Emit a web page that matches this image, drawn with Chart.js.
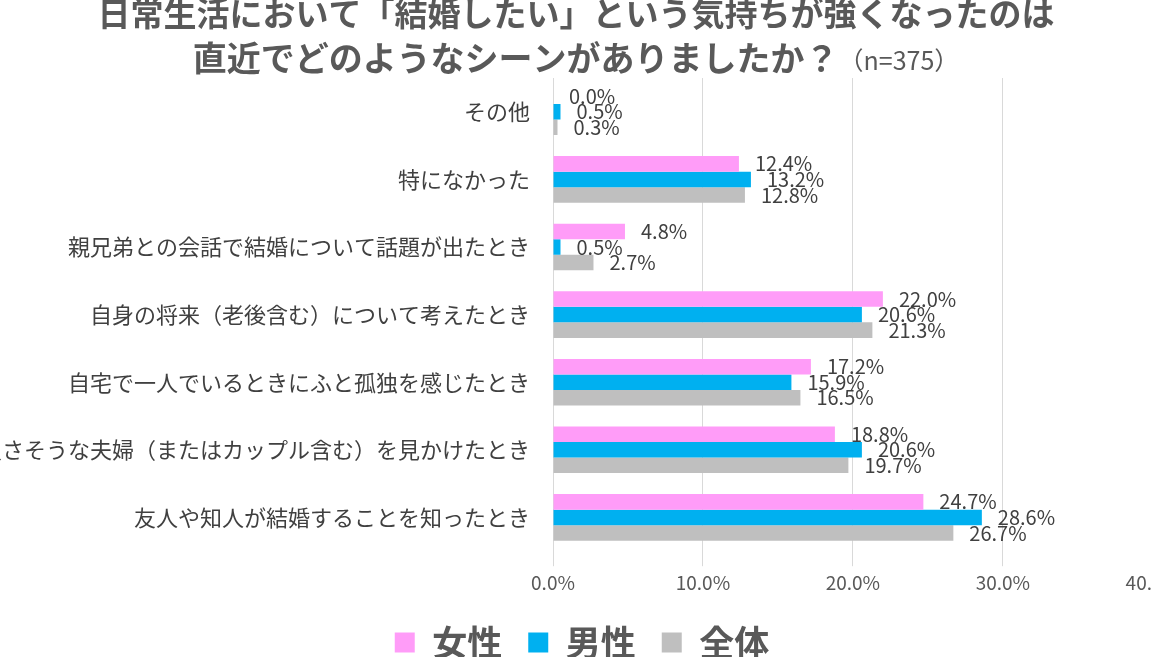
<!DOCTYPE html>
<html lang="ja">
<head>
<meta charset="utf-8">
<title>結婚したい気持ちが強くなったシーン</title>
<script src="https://cdn.jsdelivr.net/npm/chart.js@4/dist/chart.umd.min.js"></script>
<style>
  html, body { margin: 0; padding: 0; background: #fff; overflow: hidden; }
  #wrap { position: absolute; left: -21px; top: 0; width: 1206px; height: 670px; }
</style>
</head>
<body>
<div id="wrap"><canvas id="chart"></canvas></div>
<script>
// --- データ ---
const categories = [
  'その他',
  '特になかった',
  '親兄弟との会話で結婚について話題が出たとき',
  '自身の将来（老後含む）について考えたとき',
  '自宅で一人でいるときにふと孤独を感じたとき',
  '良さそうな夫婦（またはカップル含む）を見かけたとき',
  '友人や知人が結婚することを知ったとき'
];
const seriesNames = ['女性', '男性', '全体'];
const female = [0.0, 12.4, 4.8, 22.0, 17.2, 18.8, 24.7];
const male   = [0.5, 13.2, 0.5, 20.6, 15.9, 20.6, 28.6];
const total  = [0.3, 12.8, 2.7, 21.3, 16.5, 19.7, 26.7];
const titleLine1 = '日常生活において「結婚したい」という気持ちが強くなったのは';
const titleLine2 = '直近でどのようなシーンがありましたか？';
const titleNote = '（n=375）';

const colors = ['#FF9CF8', '#00B0F0', '#BFBFBF'];
const JP = '"Noto Sans CJK JP", "Noto Sans", sans-serif';
const SHIFT = 21; // canvas starts 21px left of the window

// タイトル（2行目は n= 部分だけ小さい文字）
const titlePlugin = {
  id: 'titleText',
  afterDraw(chart) {
    const ctx = chart.ctx;
    const cx = 576 + SHIFT;
    ctx.save();
    ctx.fillStyle = '#595959';
    ctx.textBaseline = 'middle';
    ctx.textAlign = 'center';
    ctx.font = 'bold 33px ' + JP;
    ctx.fillText(titleLine1, cx, 13);
    ctx.font = 'bold 34px ' + JP;
    const w1 = ctx.measureText(titleLine2).width;
    ctx.font = '25px ' + JP;
    const w2 = ctx.measureText(titleNote).width;
    const left = cx - (w1 + w2) / 2;
    ctx.textAlign = 'left';
    ctx.font = 'bold 34px ' + JP;
    ctx.fillText(titleLine2, left, 58);
    ctx.font = '25px ' + JP;
    ctx.fillText(titleNote, left + w1, 60);
    ctx.restore();
  }
};

// 棒の右に値ラベル
const valueLabels = {
  id: 'valueLabels',
  afterDatasetsDraw(chart) {
    const ctx = chart.ctx;
    ctx.save();
    ctx.font = '20px ' + JP;
    ctx.fillStyle = '#404040';
    ctx.textAlign = 'left';
    ctx.textBaseline = 'middle';
    chart.data.datasets.forEach((ds, i) => {
      chart.getDatasetMeta(i).data.forEach((bar, j) => {
        ctx.fillText(ds.data[j].toFixed(1) + '%', bar.x + 16, bar.y);
      });
    });
    ctx.restore();
  }
};

new Chart(document.getElementById('chart'), {
  type: 'bar',
  data: {
    labels: categories,
    datasets: [
      { label: seriesNames[0], data: female, backgroundColor: colors[0] },
      { label: seriesNames[1], data: male, backgroundColor: colors[1] },
      { label: seriesNames[2], data: total, backgroundColor: colors[2] }
    ]
  },
  options: {
    indexAxis: 'y',
    responsive: true,
    maintainAspectRatio: false,
    animation: false,
    datasets: { bar: { categoryPercentage: 0.69, barPercentage: 1.0 } },
    layout: { padding: { top: 78, left: 0, right: 0, bottom: 0 } },
    scales: {
      x: {
        min: 0, max: 40,
        ticks: {
          stepSize: 10,
          padding: 5,
          color: '#595959',
          font: { family: JP, size: 19 },
          callback: v => v.toFixed(1) + '%'
        },
        grid: { color: '#D9D9D9', lineWidth: 1, drawTicks: true, tickLength: 15 },
        border: { display: false }
      },
      y: {
        afterFit(scale) { scale.width = 553 + SHIFT; },
        ticks: {
          padding: 23,
          color: '#404040',
          font: { family: JP, size: 22 }
        },
        grid: { display: false, drawTicks: false },
        border: { display: false }
      }
    },
    plugins: {
      title: { display: false },
      tooltip: { enabled: false },
      legend: {
        position: 'bottom',
        labels: {
          boxWidth: 20,
          boxHeight: 20,
          padding: 26,
          color: '#595959',
          font: { family: JP, size: 35, weight: 'bold' }
        }
      }
    }
  },
  plugins: [titlePlugin, valueLabels]
});
</script>
</body>
</html>
